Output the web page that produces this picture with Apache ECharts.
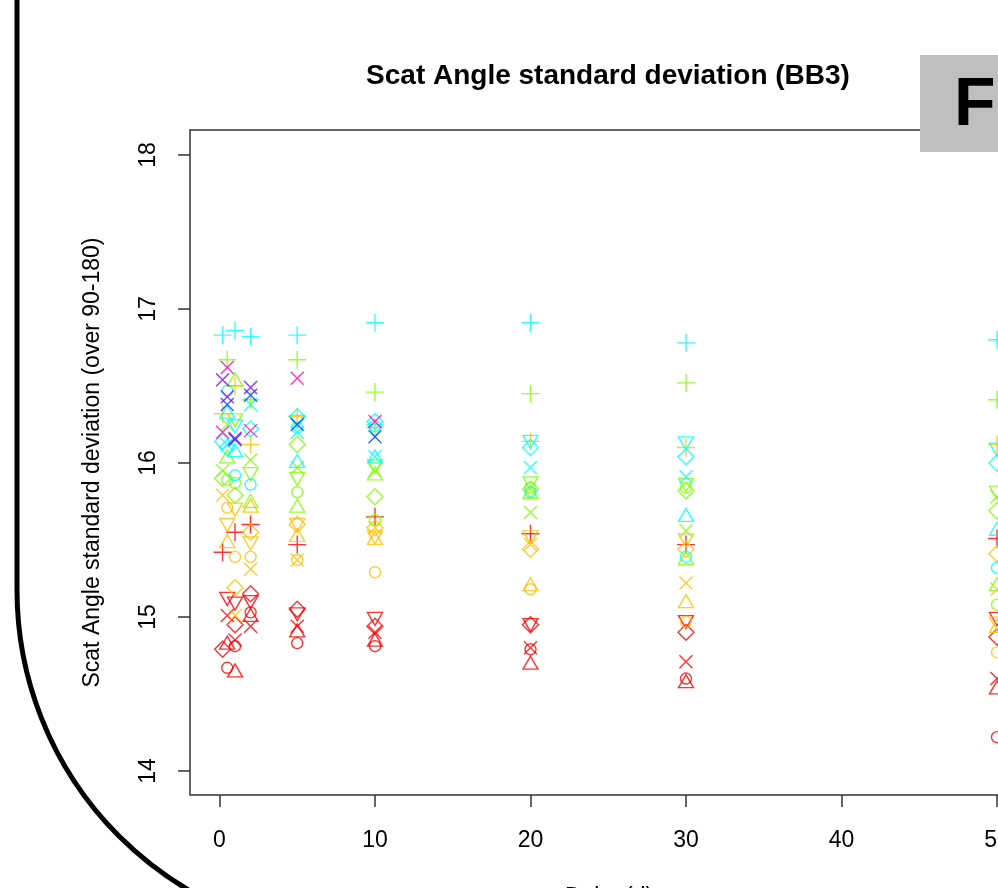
<!DOCTYPE html>
<html>
<head>
<meta charset="utf-8">
<title>Scat Angle standard deviation (BB3)</title>
<script src="https://cdn.jsdelivr.net/npm/echarts@6/dist/echarts.min.js"></script>
<style>
html,body{margin:0;padding:0;background:#fff;}
#scatchart{width:998px;height:888px;}
</style>
</head>
<body>
<div id="scatchart"></div>
<script>
// axis ticks
const xTicks = [0, 10, 20, 30, 40, 50];
const yTicks = [14, 15, 16, 17, 18];

// points, one array per colour + symbol
// c = circle, t = triangle, p = plus, x = cross, d = diamond, v = down triangle
const red_c = [[0.5,14.67],[1,14.81],[2,15.03],[5,14.83],[10,14.81],[20,14.79],[30,14.6],[50,14.22]];
const red_t = [[0.5,14.82],[1,14.64],[2,15.0],[5,14.9],[10,14.84],[20,14.69],[30,14.57],[50,14.53]];
const red_p = [[0.2,15.42],[1,15.55],[2,15.6],[5,15.47],[10,15.65],[20,15.54],[30,15.47],[50,15.51]];
const red_x = [[0.5,15.01],[1,14.85],[2,14.94],[5,14.94],[10,14.9],[20,14.8],[30,14.71],[50,14.6]];
const red_d = [[0.2,14.79],[1,14.95],[2,15.15],[5,15.05],[10,14.94],[20,14.95],[30,14.9],[50,14.87]];
const red_v = [[0.5,15.13],[1,15.1],[2,15.11],[5,15.03],[10,15.0],[20,14.96],[30,14.98],[50,15.0]];

const orange_c = [[0.5,15.71],[1,15.39],[2,15.39],[5,15.37],[10,15.29],[20,15.18],[30,14.97],[50,14.77]];
const orange_t = [[0.5,15.48],[2,15.71],[5,15.52],[10,15.5],[20,15.2],[30,15.09],[50,14.93]];
const orange_p = [[0.2,16.32],[1,16.5],[2,16.12],[5,16.3],[10,16.23],[20,16.14],[30,16.1],[50,16.12]];
const orange_x = [[0.2,15.79],[1,15.01],[2,15.31],[5,15.37],[10,15.58],[20,15.47],[30,15.22],[50,15.18]];
const orange_d = [[1,15.19],[2,15.55],[5,15.6],[10,15.58],[20,15.44],[30,15.44],[50,15.41]];
const orange_v = [[0.5,15.61],[1,15.71],[2,15.49],[5,15.61],[10,15.53],[20,15.53],[30,15.51],[50,14.97]];

const green_c = [[0.5,15.89],[1,15.87],[5,15.81],[10,15.63],[20,15.84],[30,15.84],[50,15.08]];
const green_t = [[0.5,16.03],[1,16.53],[2,15.74],[5,15.71],[10,15.92],[20,15.8],[30,15.37],[50,15.2]];
const green_p = [[0.5,16.67],[2,16.41],[5,16.67],[10,16.46],[20,16.45],[30,16.52],[50,16.41]];
const green_x = [[0.2,15.95],[0.5,16.25],[2,16.02],[5,15.97],[10,15.95],[20,15.68],[30,15.56],[50,15.78]];
const green_d = [[0.2,15.9],[1,15.79],[5,16.12],[10,15.78],[20,15.83],[30,15.82],[50,15.69]];
const green_v = [[1,16.29],[2,15.94],[5,15.91],[10,15.99],[20,15.88],[30,15.87],[50,15.82]];

const cyan_c = [[0.5,16.47],[1,15.92],[2,15.86],[5,16.23],[10,16.24],[20,15.81],[30,15.39],[50,15.32]];
const cyan_t = [[0.5,16.32],[1,16.07],[5,16.0],[10,16.03],[30,15.65],[50,15.56]];
const cyan_p = [[0.2,16.83],[1,16.86],[2,16.82],[5,16.83],[10,16.91],[20,16.91],[30,16.78],[50,16.8]];
const cyan_x = [[0.5,16.12],[2,16.38],[5,16.2],[10,16.04],[20,15.97],[30,15.91]];
const cyan_d = [[0.2,16.14],[0.5,16.1],[2,16.22],[5,16.3],[10,16.27],[20,16.1],[30,16.04],[50,16.0]];
const cyan_v = [[1,16.25],[5,16.28],[10,16.22],[20,16.15],[30,16.14],[50,16.1]];

const blue_x = [[0.5,16.38],[1,16.15],[2,16.44],[5,16.25],[10,16.17]];
const purple_x = [[0.2,16.54],[0.5,16.43],[1,16.16],[2,16.49]];
const pink_x = [[0.2,16.2],[0.5,16.62],[2,16.21],[5,16.55],[10,16.27]];

// draw order: data, colour, symbol
const groups = [
  [red_c,'red','c'],[red_t,'red','t'],[red_p,'red','p'],[red_x,'red','x'],[red_d,'red','d'],[red_v,'red','v'],
  [orange_c,'orange','c'],[orange_t,'orange','t'],[orange_p,'orange','p'],[orange_x,'orange','x'],[orange_d,'orange','d'],[orange_v,'orange','v'],
  [green_c,'green','c'],[green_t,'green','t'],[green_p,'green','p'],[green_x,'green','x'],[green_d,'green','d'],[green_v,'green','v'],
  [cyan_c,'cyan','c'],[cyan_t,'cyan','t'],[cyan_p,'cyan','p'],[cyan_x,'cyan','x'],[cyan_d,'cyan','d'],[cyan_v,'cyan','v'],
  [blue_x,'blue','x'],[purple_x,'purple','x'],[pink_x,'pink','x']
];

const colors = {red:'#FF0000', orange:'#FFBF00', green:'#80FF00', cyan:'#00FFFF', blue:'#0040FF', purple:'#8000FF', pink:'#FF00BF'};

const shapes = {
  c: {symbol:'circle', size:11, offset:[0,0]},
  t: {symbol:'path://M5,0L10,8.66L0,8.66Z', size:[15,13], offset:[0,-2]},
  v: {symbol:'path://M0,0L10,0L5,8.66Z', size:[15,13], offset:[0,2]},
  p: {symbol:'path://M0,5L10,5M5,0L5,10', size:18, offset:[0,0]},
  x: {symbol:'path://M0,0L10,10M0,10L10,0', size:13, offset:[0,0]},
  d: {symbol:'diamond', size:16, offset:[0,0]}
};

const fontFam = '"Liberation Sans", Arial, sans-serif';

let series = [];
groups.forEach(g => {
  let sh = shapes[g[2]];
  series.push({
    type:'scatter',
    name: g[1] + '_' + g[2],
    data: g[0],
    symbol: sh.symbol,
    symbolSize: sh.size,
    symbolOffset: sh.offset,
    itemStyle:{color:'rgba(0,0,0,0)', borderColor: colors[g[1]], borderWidth:1.4},
    emphasis:{disabled:true},
    silent:true
  });
});

var myChart = echarts.init(document.getElementById('scatchart'));
var option = {
  animation:false,
  backgroundColor:'#fff',
  title:{
    text:'Scat Angle standard deviation (BB3)',
    left:608, top:62, padding:0,
    textAlign:'center',
    textStyle:{fontSize:28, fontWeight:'bold', fontFamily:fontFam, color:'#000'}
  },
  grid:{
    left:190, top:130, width:838, height:665,
    outerBoundsMode:'none', containLabel:false,
    show:true, borderColor:'#333', borderWidth:1.5, backgroundColor:'transparent'
  },
  xAxis:{
    type:'value', min:-1.896, max:51.996,
    axisLine:{show:false, onZero:false},
    splitLine:{show:false},
    axisTick:{show:true, customValues:xTicks, length:12, lineStyle:{color:'#333', width:1.5}},
    axisLabel:{customValues:xTicks, margin:34, fontSize:23, fontFamily:fontFam, color:'#000'},
    name:'Delta (d)', nameLocation:'middle', nameGap:91,
    nameTextStyle:{fontSize:23, fontFamily:fontFam, color:'#000'}
  },
  yAxis:{
    type:'value', min:13.844, max:18.162,
    axisLine:{show:false, onZero:false},
    splitLine:{show:false},
    axisTick:{show:true, customValues:yTicks, length:12, lineStyle:{color:'#333', width:1.5}},
    axisLabel:{customValues:yTicks, rotate:90, margin:30, fontSize:23, fontFamily:fontFam, color:'#000'},
    name:'Scat Angle standard deviation (over 90-180)', nameLocation:'middle', nameRotate:90, nameGap:86,
    nameTextStyle:{fontSize:23, fontFamily:fontFam, color:'#000'}
  },
  graphic:[
    {type:'line', silent:true, z:100,
     shape:{x1:17, y1:-10, x2:17, y2:590},
     style:{stroke:'#000', lineWidth:5}},
    {type:'arc', silent:true, z:100,
     shape:{cx:365, cy:590, r:348, startAngle:Math.PI/2, endAngle:Math.PI, clockwise:true},
     style:{stroke:'#000', lineWidth:5, fill:null}},
    {type:'rect', silent:true, z:100,
     shape:{x:920, y:55, width:100, height:97},
     style:{fill:'#BFBFBF'}},
    {type:'text', silent:true, z:101, x:954, y:106,
     style:{text:'F', font:'bold 68px "Liberation Sans", Arial, sans-serif', fill:'#000', verticalAlign:'middle', align:'left'}}
  ],
  series: series
};
myChart.setOption(option);
window.addEventListener('resize',()=>{
  myChart.resize();
});
</script>
</body>
</html>
